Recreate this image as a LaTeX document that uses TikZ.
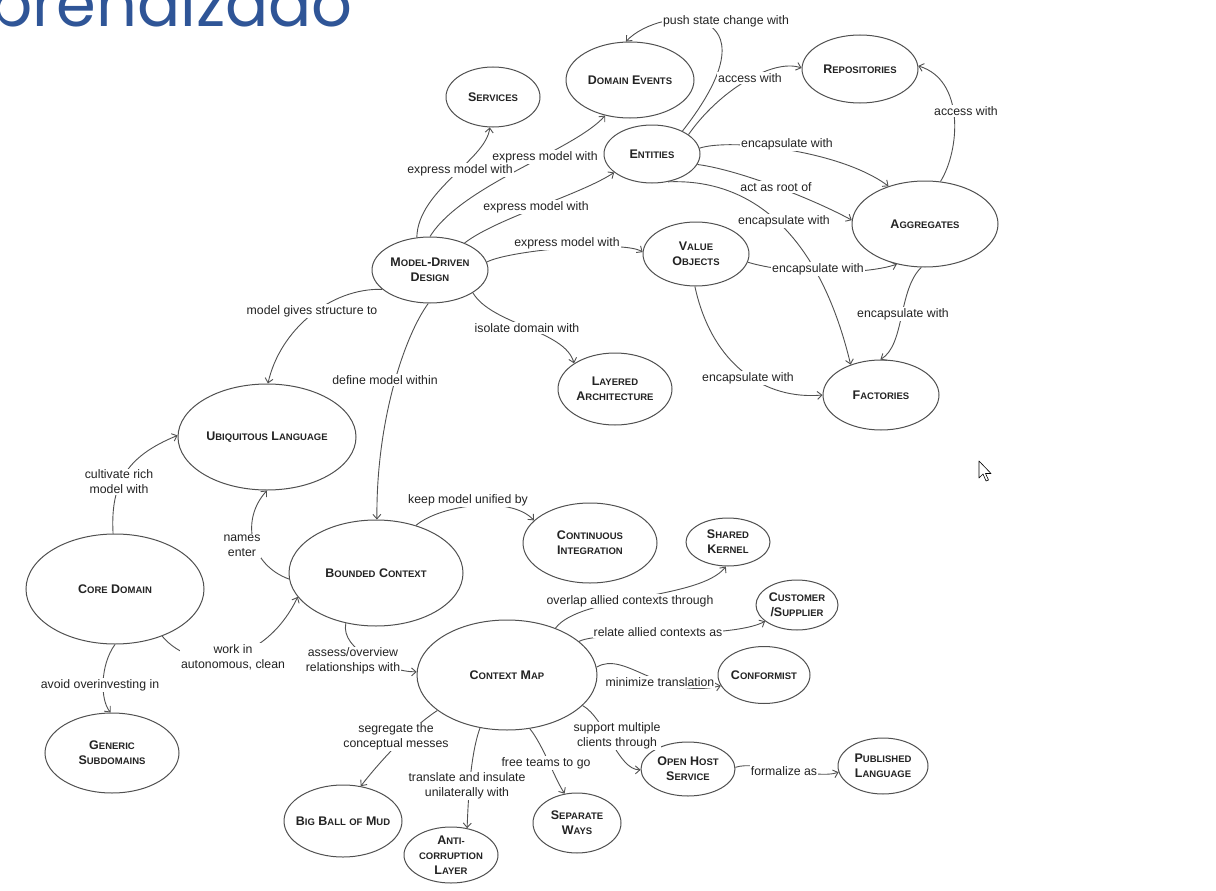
\documentclass[tikz,border=0pt]{standalone}
\usepackage{fontspec}
\setmainfont{Liberation Sans}
\newfontfamily\titlefont{Poppins}
\usetikzlibrary{shapes.geometric,arrows.meta}
\definecolor{ttl}{RGB}{47,85,151}
\definecolor{ln}{RGB}{80,80,80}
\definecolor{tx}{RGB}{35,35,35}
\newcommand\SC[2]{{\fontsize{12.5}{15}\selectfont #1}{\fontsize{9.5}{15}\selectfont #2}}
\begin{document}
\begin{tikzpicture}[x=1pt,y=-1pt,
  ell/.style={ellipse, draw=ln, line width=1pt, fill=white, inner xsep=-8pt, inner ysep=-6pt,
    font=\bfseries\fontsize{12.5}{15}\selectfont, text=tx, align=center},
  lbl/.style={fill=white, inner sep=1pt, font=\fontsize{12.3}{15}\selectfont, text=tx, align=center},
  conn/.style={draw=ln, line width=0.9pt, -{Straight Barb[length=4.5pt,width=8pt]}}]
\useasboundingbox (0,0) rectangle (1216,891);
\fill[white] (0,0) rectangle (1216,891);
\begin{scope}
\clip (0,0) rectangle (1216,891);
\node[anchor=base east, text=ttl, font=\titlefont\fontsize{64}{64}\selectfont, inner sep=0pt] (title) at (353,27) {Aprendizado};
\end{scope}

% nodes
\node[ell, minimum width=94pt, minimum height=60pt] (svc) at (493,97) {\SC{S}{ERVICES}};
\node[ell, minimum width=128pt, minimum height=76pt] (de) at (630,80) {\SC{D}{OMAIN} \SC{E}{VENTS}};
\node[ell, minimum width=116pt, minimum height=68pt] (rep) at (860,69) {\SC{R}{EPOSITORIES}};
\node[ell, minimum width=96pt, minimum height=58pt] (ent) at (652,154) {\SC{E}{NTITIES}};
\node[ell, minimum width=146pt, minimum height=86pt] (agg) at (925,224) {\SC{A}{GGREGATES}};
\node[ell, minimum width=116pt, minimum height=66pt] (mdd) at (430,270) {\SC{M}{ODEL}-\SC{D}{RIVEN}\\\SC{D}{ESIGN}};
\node[ell, minimum width=106pt, minimum height=64pt] (vo) at (696,254) {\SC{V}{ALUE}\\\SC{O}{BJECTS}};
\node[ell, minimum width=114pt, minimum height=72pt] (la) at (615,389) {\SC{L}{AYERED}\\\SC{A}{RCHITECTURE}};
\node[ell, minimum width=116pt, minimum height=70pt] (fac) at (881,395) {\SC{F}{ACTORIES}};
\node[ell, minimum width=178pt, minimum height=106pt] (ul) at (267,437) {\SC{U}{BIQUITOUS} \SC{L}{ANGUAGE}};
\node[ell, minimum width=174pt, minimum height=106pt] (bc) at (376,573) {\SC{B}{OUNDED} \SC{C}{ONTEXT}};
\node[ell, minimum width=134pt, minimum height=80pt] (ci) at (590,543) {\SC{C}{ONTINUOUS}\\\SC{I}{NTEGRATION}};
\node[ell, minimum width=84pt, minimum height=48pt] (sk) at (728,542) {\SC{S}{HARED}\\\SC{K}{ERNEL}};
\node[ell, minimum width=82pt, minimum height=50pt] (cs) at (797,605) {\SC{C}{USTOMER}\\/\SC{S}{UPPLIER}};
\node[ell, minimum width=92pt, minimum height=57pt] (conf) at (764,675) {\SC{C}{ONFORMIST}};
\node[ell, minimum width=178pt, minimum height=110pt] (cd) at (115,589) {\SC{C}{ORE} \SC{D}{OMAIN}};
\node[ell, minimum width=180pt, minimum height=110pt] (cm) at (507,675) {\SC{C}{ONTEXT} \SC{M}{AP}};
\node[ell, minimum width=134pt, minimum height=80pt] (gs) at (112,753) {\SC{G}{ENERIC}\\\SC{S}{UBDOMAINS}};
\node[ell, minimum width=94pt, minimum height=54pt] (ohs) at (688,769) {\SC{O}{PEN} \SC{H}{OST}\\\SC{S}{ERVICE}};
\node[ell, minimum width=90pt, minimum height=56pt] (pl) at (883,766) {\SC{P}{UBLISHED}\\\SC{L}{ANGUAGE}};
\node[ell, minimum width=118pt, minimum height=72pt] (bbm) at (343,821) {\SC{B}{IG} \SC{B}{ALL} \SC{}{OF} \SC{M}{UD}};
\node[ell, minimum width=94pt, minimum height=56pt] (acl) at (451,855) {\SC{A}{NTI-}\\\SC{}{CORRUPTION}\\\SC{L}{AYER}};
\node[ell, minimum width=88pt, minimum height=60pt] (sw) at (577,823) {\SC{S}{EPARATE}\\\SC{W}{AYS}};

% connectors
\draw[conn] (mdd.112) .. controls (418,190) and (486,160) .. (svc.264);
\draw[conn] (mdd.90) .. controls (462,185) and (575,150) .. (de.235);
\draw[conn] (mdd.38) .. controls (497,218) and (580,195) .. (ent.206);
\draw[conn] (mdd.8) .. controls (510,250) and (625,240) .. (vo.178);
\draw[conn] (mdd.202) .. controls (330,288) and (280,330) .. (ul.89);
\draw[conn] (mdd.267) .. controls (405,335) and (376,420) .. (bc.89);
\draw[conn] (mdd.332) .. controls (492,325) and (565,330) .. (la.148);
\draw[conn] (ent.37) .. controls (785,0) and (660,5) .. (de.96);
\draw[conn] (ent.28) .. controls (718,92) and (772,58) .. (rep.179);
\draw[conn] (ent.7) .. controls (730,138) and (840,150) .. (agg.134);
\draw[conn] (ent.347) .. controls (740,170) and (815,200) .. (agg.177);
\draw[conn] (ent.300) .. controls (760,178) and (822,245) .. (fac.135);
\draw[conn] (vo.351) .. controls (790,275) and (865,275) .. (agg.235);
\draw[conn] (vo.268) .. controls (712,365) and (765,400) .. (fac.180);
\draw[conn] (agg.70) .. controls (960,150) and (965,80) .. (rep.3);
\draw[conn] (agg.265) .. controls (898,290) and (905,345) .. (fac.91);
\draw[conn] (cd.92) .. controls (110,480) and (130,455) .. (ul.179);
\draw[conn] (cd.270) .. controls (100,665) and (100,700) .. (gs.92);
\draw[conn] (cd.315) .. controls (195,675) and (265,665) .. (bc.197);
\draw[conn] (bc.184) .. controls (250,565) and (240,520) .. (ul.270);
\draw[conn] (bc.50) .. controls (440,505) and (510,495) .. (ci.158);
\draw[conn] (bc.239) .. controls (340,650) and (390,672) .. (cm.178);
\draw[conn] (cm.44) .. controls (580,595) and (700,600) .. (sk.265);
\draw[conn] (cm.25) .. controls (600,630) and (730,640) .. (cs.207);
\draw[conn] (cm.5) .. controls (625,650) and (660,700) .. (conf.194);
\draw[conn] (cm.338) .. controls (605,718) and (618,770) .. (ohs.181);
\draw[conn] (cm.293) .. controls (543,745) and (553,775) .. (sw.113);
\draw[conn] (cm.243) .. controls (470,755) and (468,805) .. (acl.59);
\draw[conn] (cm.207) .. controls (415,725) and (385,755) .. (bbm.63);
\draw[conn] (ohs.2) .. controls (755,760) and (815,780) .. (pl.188);

% connector labels
\node[lbl] (l1) at (460,170) {express model with};
\node[lbl] (l2) at (545,157) {express model with};
\node[lbl] (l3) at (536,207) {express model with};
\node[lbl] (l4) at (567,243) {express model with};
\node[lbl] (l5) at (312,311) {model gives structure to};
\node[lbl] (l6) at (385,380) {define model within};
\node[lbl] (l7) at (527,328) {isolate domain with};
\node[lbl] (l8) at (726,21) {push state change with};
\node[lbl] (l9) at (750,78) {access with};
\node[lbl] (l10) at (787,144) {encapsulate with};
\node[lbl] (l11) at (776,187) {act as root of};
\node[lbl] (l12) at (784,221) {encapsulate with};
\node[lbl] (l13) at (818,269) {encapsulate with};
\node[lbl] (l14) at (748,378) {encapsulate with};
\node[lbl] (l15) at (966,111) {access with};
\node[lbl] (l16) at (903,314) {encapsulate with};
\node[lbl] (l17) at (119,482) {cultivate rich\\model with};
\node[lbl] (l18) at (100,685) {avoid overinvesting in};
\node[lbl] (l19) at (233,657) {work in\\autonomous, clean};
\node[lbl] (l20) at (242,546) {names\\enter};
\node[lbl] (l21) at (468,500) {keep model unified by};
\node[lbl] (l22) at (353,661) {assess/overview\\relationships with};
\node[lbl] (l23) at (630,601) {overlap allied contexts through};
\node[lbl] (l24) at (658,632) {relate allied contexts as};
\node[lbl] (l25) at (660,682) {minimize translation};
\node[lbl] (l26) at (617,736) {support multiple\\clients through};
\node[lbl] (l27) at (546,763) {free teams to go};
\node[lbl] (l28) at (467,786) {translate and insulate\\unilaterally with};
\node[lbl] (l29) at (396,737) {segregate the\\conceptual messes};
\node[lbl] (l30) at (784,771) {formalize as};

% mouse pointer
\draw[fill=white, line width=0.6pt, line join=round] (979,461) -- ++(0,17) -- ++(4,-4) -- ++(3,7) -- ++(2.5,-1) -- ++(-3,-6.5) -- ++(5.5,0) -- cycle;
\end{tikzpicture}
\end{document}
